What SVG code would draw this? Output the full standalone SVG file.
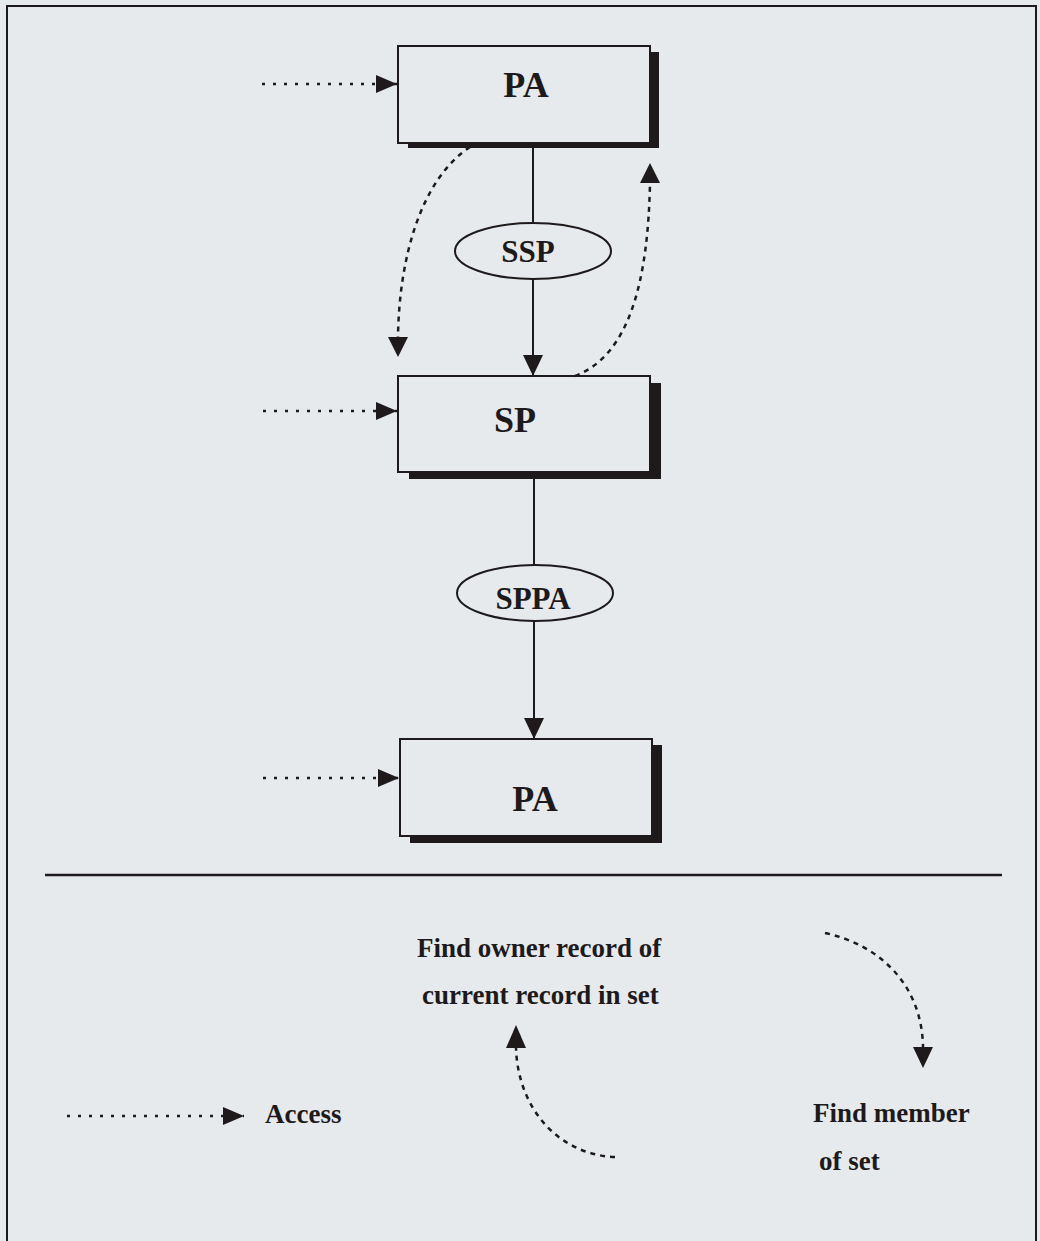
<svg xmlns="http://www.w3.org/2000/svg" width="1040" height="1241" viewBox="0 0 1040 1241">
<style>
.bg{fill:#e7eaec}
.frame{fill:none;stroke:#1e1a1c;stroke-width:2}
.box{fill:#e7eaec;stroke:#1e1a1c;stroke-width:2}
.shadow{fill:#1e1a1c}
.ell{fill:#e7eaec;stroke:#1e1a1c;stroke-width:2}
.lbl{font-family:"Liberation Serif","Times New Roman",serif;font-weight:bold;fill:#1e1a1c}
.big{font-size:36px}
.mid{font-size:31px}
.leg{font-size:27px}
.solid{fill:none;stroke:#1e1a1c;stroke-width:2}
.dot{fill:none;stroke:#1e1a1c;stroke-width:2.5;stroke-dasharray:3 8}
.dash{fill:none;stroke:#1e1a1c;stroke-width:2.5;stroke-dasharray:5 5}
</style>
<defs>
<marker id="ah" markerUnits="userSpaceOnUse" markerWidth="22" markerHeight="20" refX="21" refY="10" orient="auto" viewBox="0 0 22 20">
<path d="M0,0 L21,10 L0,20 z" fill="#1e1a1c"/>
</marker>
<marker id="ahs" markerUnits="userSpaceOnUse" markerWidth="22" markerHeight="18" refX="21" refY="9" orient="auto" viewBox="0 0 22 18">
<path d="M0,0 L21,9 L0,18 z" fill="#1e1a1c"/>
</marker>
</defs>
<rect class="bg" x="0" y="0" width="1040" height="1241"/>
<rect class="frame" x="7" y="6" width="1029" height="1245"/>

<g id="node-pa1">
<rect class="shadow" x="408" y="52" width="251" height="96"/>
<rect class="box" x="398" y="46" width="252" height="97"/>
<text class="lbl big" x="526" y="97" text-anchor="middle">PA</text>
</g>
<g id="node-ssp">
<ellipse class="ell" cx="533" cy="251" rx="78" ry="28"/>
<text class="lbl mid" x="528" y="262" text-anchor="middle">SSP</text>
</g>
<g id="node-sp">
<rect class="shadow" x="409" y="383" width="252" height="96"/>
<rect class="box" x="398" y="376" width="252" height="96"/>
<text class="lbl big" x="515" y="432" text-anchor="middle">SP</text>
</g>
<g id="node-sppa">
<ellipse class="ell" cx="535" cy="593" rx="78" ry="28"/>
<text class="lbl mid" x="533" y="609" text-anchor="middle">SPPA</text>
</g>
<g id="node-pa2">
<rect class="shadow" x="410" y="745" width="252" height="98"/>
<rect class="box" x="400" y="739" width="252" height="97"/>
<text class="lbl big" x="535" y="811" text-anchor="middle">PA</text>
</g>

<g id="connectors">
<line class="solid" x1="533" y1="143" x2="533" y2="223"/>
<line class="solid" x1="533" y1="279" x2="533" y2="376" marker-end="url(#ah)"/>
<line class="solid" x1="534" y1="472" x2="534" y2="565"/>
<line class="solid" x1="534" y1="621" x2="534" y2="739" marker-end="url(#ah)"/>
<line class="dot" x1="262" y1="84" x2="397" y2="84" marker-end="url(#ahs)"/>
<line class="dot" x1="263" y1="411" x2="397" y2="411" marker-end="url(#ahs)"/>
<line class="dot" x1="263" y1="778" x2="399" y2="778" marker-end="url(#ahs)"/>
<path class="dash" d="M470,147 C420,180 399,260 398,337"/>
<path d="M388,337 L408,337 L398,357 z" fill="#1e1a1c"/>
<path class="dash" d="M575,376 C630,355 648,280 650,183"/>
<path d="M640,183 L660,183 L650,163 z" fill="#1e1a1c"/>
</g>

<line x1="45" y1="875" x2="1002" y2="875" stroke="#1e1a1c" stroke-width="2.5"/>

<g id="legend">
<line class="dot" x1="67" y1="1116" x2="244" y2="1116" marker-end="url(#ahs)"/>
<text class="lbl leg" x="265" y="1123">Access</text>
<text class="lbl leg" x="417" y="957">Find owner record of</text>
<text class="lbl leg" x="422" y="1004">current record in set</text>
<path class="dash" d="M615,1157 C560,1155 518,1110 516,1048"/>
<path d="M506,1048 L526,1048 L516,1025 z" fill="#1e1a1c"/>
<path class="dash" d="M825,933 C880,945 922,985 923,1047"/>
<path d="M913,1047 L933,1047 L923,1068 z" fill="#1e1a1c"/>
<text class="lbl leg" x="813" y="1122">Find member</text>
<text class="lbl leg" x="819" y="1170">of set</text>
</g>
</svg>
